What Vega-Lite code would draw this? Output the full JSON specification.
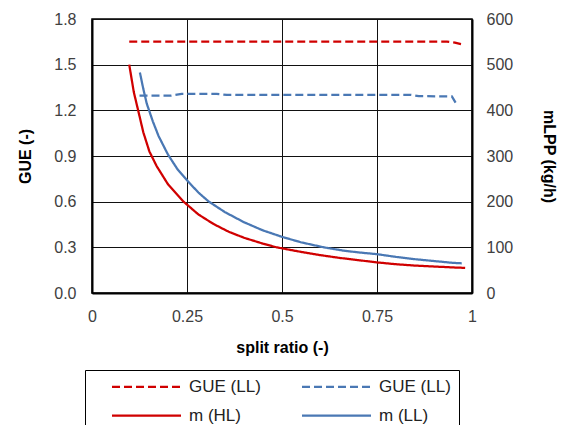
{
  "$schema": "https://vega.github.io/schema/vega-lite/v6.json",
  "width": 380,
  "height": 274,
  "autosize": {"type": "none"},
  "padding": {"left": 92, "top": 19, "right": 95, "bottom": 132},
  "background": "white",
  "config": {
    "font": "Liberation Sans",
    "view": {"stroke": "#000000", "strokeWidth": 1.5},
    "axis": {
      "labelFont": "Liberation Sans",
      "labelFontSize": 16,
      "labelColor": "#404040",
      "titleFont": "Liberation Sans",
      "titleFontSize": 16,
      "titleFontWeight": "bold",
      "titleColor": "#000000",
      "ticks": false,
      "domainColor": "#000000",
      "domainWidth": 2,
      "gridColor": "#111111",
      "gridWidth": 1,
      "gridOpacity": 1
    },
    "legend": {
      "labelFont": "Liberation Sans",
      "labelFontSize": 17,
      "labelColor": "#222222"
    }
  },
  "layer": [
    {
      "data": {
        "values": [
          {"series": "GUE_HL", "x": 0.098, "gue": 1.652},
          {"series": "GUE_HL", "x": 0.3, "gue": 1.652},
          {"series": "GUE_HL", "x": 0.6, "gue": 1.652},
          {"series": "GUE_HL", "x": 0.934, "gue": 1.652},
          {"series": "GUE_HL", "x": 0.955, "gue": 1.645},
          {"series": "GUE_HL", "x": 0.978, "gue": 1.631},
          {"series": "GUE_LL", "x": 0.125, "gue": 1.296},
          {"series": "GUE_LL", "x": 0.206, "gue": 1.296},
          {"series": "GUE_LL", "x": 0.236, "gue": 1.308},
          {"series": "GUE_LL", "x": 0.328, "gue": 1.308},
          {"series": "GUE_LL", "x": 0.355, "gue": 1.301},
          {"series": "GUE_LL", "x": 0.84, "gue": 1.301},
          {"series": "GUE_LL", "x": 0.86, "gue": 1.293},
          {"series": "GUE_LL", "x": 0.947, "gue": 1.292},
          {"series": "GUE_LL", "x": 0.96, "gue": 1.237}
        ]
      },
      "mark": {"type": "line", "strokeWidth": 2.25, "interpolate": "linear"},
      "encoding": {
        "x": {
          "field": "x", "type": "quantitative",
          "scale": {"domain": [0, 1], "nice": false},
          "axis": {
            "values": [0, 0.25, 0.5, 0.75, 1],
            "labelExpr": "datum.value == 0 ? '0' : datum.value == 1 ? '1' : format(datum.value, '.2~f')",
            "title": "split ratio (-)",
            "labelPadding": 15,
            "titlePadding": 15,
            "labelFlush": false
          }
        },
        "y": {
          "field": "gue", "type": "quantitative",
          "scale": {"domain": [0, 1.8], "nice": false},
          "axis": {
            "values": [0, 0.3, 0.6, 0.9, 1.2, 1.5, 1.8],
            "format": ".1f",
            "title": "GUE (-)",
            "labelPadding": 16,
            "titlePadding": 20
          }
        },
        "color": {
          "field": "series", "type": "nominal",
          "scale": {
            "domain": ["GUE_HL", "GUE_LL", "m_HL", "m_LL"],
            "range": ["#D00000", "#4A78B4", "#D00000", "#4A78B4"]
          },
          "legend": {
            "title": null,
            "orient": "none",
            "legendX": -7,
            "legendY": 351,
            "direction": "horizontal",
            "columns": 2,
            "symbolType": "M-6.9,0H6.9",
            "symbolSize": 100,
            "symbolStrokeWidth": 2.25,
            "symbolOffset": 45,
            "labelOffset": 34,
            "columnPadding": 22,
            "rowPadding": 11,
            "padding": 8,
            "strokeColor": "#000000",
            "labelExpr": "datum.value == 'GUE_HL' ? 'GUE (LL)' : datum.value == 'GUE_LL' ? 'GUE (LL)' : datum.value == 'm_HL' ? 'm (HL)' : 'm (LL)'"
          }
        },
        "strokeDash": {
          "field": "series", "type": "nominal",
          "scale": {
            "domain": ["GUE_HL", "GUE_LL", "m_HL", "m_LL"],
            "range": [[8, 4], [8, 4], [1, 0], [1, 0]]
          },
          "legend": null
        }
      }
    },
    {
      "data": {
        "values": [
          {"series": "m_HL", "x": 0.098, "m": 500},
          {"series": "m_HL", "x": 0.11, "m": 440},
          {"series": "m_HL", "x": 0.122, "m": 398},
          {"series": "m_HL", "x": 0.135, "m": 352},
          {"series": "m_HL", "x": 0.151, "m": 310},
          {"series": "m_HL", "x": 0.17, "m": 278},
          {"series": "m_HL", "x": 0.2, "m": 238},
          {"series": "m_HL", "x": 0.241, "m": 200},
          {"series": "m_HL", "x": 0.28, "m": 172},
          {"series": "m_HL", "x": 0.32, "m": 151},
          {"series": "m_HL", "x": 0.36, "m": 134},
          {"series": "m_HL", "x": 0.4, "m": 121},
          {"series": "m_HL", "x": 0.45, "m": 108},
          {"series": "m_HL", "x": 0.486, "m": 100},
          {"series": "m_HL", "x": 0.55, "m": 90},
          {"series": "m_HL", "x": 0.6, "m": 83},
          {"series": "m_HL", "x": 0.65, "m": 77},
          {"series": "m_HL", "x": 0.7, "m": 72},
          {"series": "m_HL", "x": 0.75, "m": 67},
          {"series": "m_HL", "x": 0.8, "m": 63},
          {"series": "m_HL", "x": 0.85, "m": 60},
          {"series": "m_HL", "x": 0.9, "m": 58},
          {"series": "m_HL", "x": 0.95, "m": 56},
          {"series": "m_HL", "x": 0.982, "m": 55},
          {"series": "m_LL", "x": 0.126, "m": 483},
          {"series": "m_LL", "x": 0.135, "m": 447},
          {"series": "m_LL", "x": 0.144, "m": 415},
          {"series": "m_LL", "x": 0.16, "m": 376},
          {"series": "m_LL", "x": 0.175, "m": 344},
          {"series": "m_LL", "x": 0.2, "m": 303},
          {"series": "m_LL", "x": 0.225, "m": 271},
          {"series": "m_LL", "x": 0.253, "m": 244},
          {"series": "m_LL", "x": 0.28, "m": 220},
          {"series": "m_LL", "x": 0.306, "m": 201},
          {"series": "m_LL", "x": 0.35, "m": 177},
          {"series": "m_LL", "x": 0.4, "m": 155},
          {"series": "m_LL", "x": 0.45, "m": 137},
          {"series": "m_LL", "x": 0.5, "m": 123},
          {"series": "m_LL", "x": 0.55, "m": 111},
          {"series": "m_LL", "x": 0.61, "m": 100},
          {"series": "m_LL", "x": 0.66, "m": 93},
          {"series": "m_LL", "x": 0.7, "m": 89},
          {"series": "m_LL", "x": 0.75, "m": 85},
          {"series": "m_LL", "x": 0.8, "m": 79},
          {"series": "m_LL", "x": 0.85, "m": 74},
          {"series": "m_LL", "x": 0.9, "m": 70},
          {"series": "m_LL", "x": 0.95, "m": 66},
          {"series": "m_LL", "x": 0.973, "m": 65}
        ]
      },
      "mark": {"type": "line", "strokeWidth": 2.25, "interpolate": "linear"},
      "encoding": {
        "x": {"field": "x", "type": "quantitative"},
        "y": {
          "field": "m", "type": "quantitative",
          "scale": {"domain": [0, 600], "nice": false},
          "axis": {
            "orient": "right",
            "values": [0, 100, 200, 300, 400, 500, 600],
            "grid": false,
            "title": "mLPP (kg/h)",
            "labelPadding": 14,
            "titlePadding": 28
          }
        },
        "color": {"field": "series", "type": "nominal"},
        "strokeDash": {"field": "series", "type": "nominal"}
      }
    }
  ],
  "resolve": {"scale": {"y": "independent"}}
}
